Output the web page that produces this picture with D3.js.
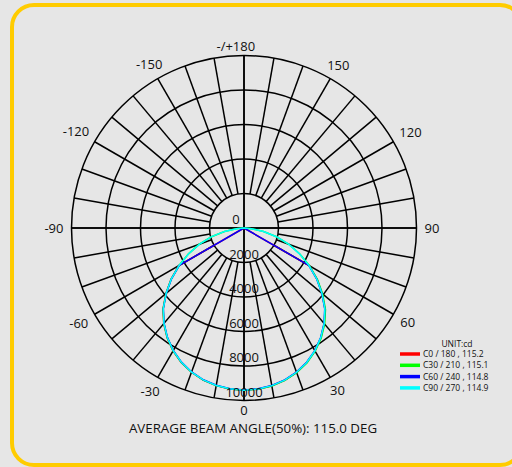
<!DOCTYPE html>
<html>
<head>
<meta charset="utf-8">
<script src="https://cdn.jsdelivr.net/npm/d3@7/dist/d3.min.js"></script>
<style>
html,body{margin:0;padding:0;background:#e6e6e6;}
svg{display:block;}
text{font-family:"Open Sans",sans-serif;fill:#111;}
</style>
</head>
<body>
<svg id="chart" width="512" height="467"></svg>
<script>
// ---- data ----
const gammaAngles = [-90,-85,-80,-75,-70,-65,-60,-55,-50,-45,-40,-35,-30,-25,-20,-15,-10,-5,0,5,10,15,20,25,30,35,40,45,50,55,60,65,70,75,80,85,90];
const seriesNames = ["C0 / 180 , 115.2","C30 / 210 , 115.1","C60 / 240 , 114.8","C90 / 270 , 114.9"];
const seriesColors = ["#ff0000","#00ff00","#0000ff","#00ffff"];
const c0Values  = [0,0,0,0,0,0,4360,5160,5910,6640,7240,7770,8230,8610,8900,9130,9280,9370,9410,9380,9290,9140,8910,8610,8230,7770,7240,6640,5910,5160,4360,0,0,0,0,0,0];
const c30Values = [0,450,1150,1950,2750,3550,4350,5150,5900,6630,7230,7760,8220,8600,8900,9130,9280,9370,9410,9380,9300,9150,8930,8630,8250,7800,7270,6680,5950,5200,4380,3570,2760,1950,1150,440,0];
const c60Values = [0,0,0,0,0,0,4330,5130,5880,6610,7210,7740,8200,8580,8880,9110,9260,9350,9390,9360,9270,9120,8890,8590,8210,7750,7220,6620,5890,5140,4340,0,0,0,0,0,0];
const c90Values = [0,440,1140,1940,2740,3540,4340,5140,5890,6620,7220,7750,8210,8590,8890,9120,9270,9360,9400,9370,9280,9130,8900,8600,8220,7760,7230,6630,5900,5150,4350,3550,2750,1950,1150,450,0];
const ringTicks = [2000,4000,6000,8000,10000];
const angleTicks = [0,30,60,90,120,150,180,-150,-120,-90,-60,-30];
const angleTickLabels = ["0","30","60","90","120","150","-/+180","-150","-120","-90","-60","-30"];
const unitLabel = "UNIT:cd";
const titleText = "AVERAGE BEAM ANGLE(50%): 115.0 DEG";

const seriesValues = [c0Values,c30Values,c60Values,c90Values];

// ---- layout ----
const W = 512, H = 467;
const cx = 244, cy = 228, R = 172.5;
const svg = d3.select("#chart");
svg.append("rect").attr("width",W).attr("height",H).attr("fill","#e6e6e6");
svg.append("rect").attr("x",12).attr("y",5).attr("width",510).attr("height",460)
  .attr("rx",22).attr("ry",22).attr("fill","none").attr("stroke","#ffcc00").attr("stroke-width",4);

const r = d3.scaleLinear().domain([0,10000]).range([0,R]);
const toRad = d => d*Math.PI/180;
// gamma 0 at bottom, positive to the right
const px = (g,v) => cx + r(v)*Math.sin(toRad(g));
const py = (g,v) => cy + r(v)*Math.cos(toRad(g));

const g = svg.append("g");
const gridStyle = sel => sel.attr("stroke","#000").attr("stroke-width",1.5).attr("fill","none");

// rings
g.selectAll("circle.ring").data(ringTicks).join("circle")
  .attr("cx",cx).attr("cy",cy).attr("r",d=>r(d)).call(gridStyle);

// radial lines every 10 degrees
const radials = d3.range(0,360,10);
const rMax = ringTicks[ringTicks.length-1], rMin = ringTicks[0];
g.selectAll("line.rad").data(radials).join("line")
  .attr("x1",d => d%90===0 ? px(d,rMax) : px(d,rMin))
  .attr("y1",d => d%90===0 ? py(d,rMax) : py(d,rMin))
  .attr("x2",d => d%90===0 ? px(d+180,rMax) : px(d,rMax))
  .attr("y2",d => d%90===0 ? py(d+180,rMax) : py(d,rMax))
  .call(gridStyle);

// curves
const line = d3.lineRadial()
  .angle(d => Math.PI - toRad(d[0]))
  .radius(d => r(d[1]))
  .curve(d3.curveLinear);
const cg = svg.append("g").attr("transform",`translate(${cx},${cy})`);
seriesValues.forEach((vals,i) => {
  cg.append("path")
    .attr("d", line(gammaAngles.map((a,j)=>[a,vals[j]])))
    .attr("fill","none").attr("stroke",seriesColors[i]).attr("stroke-width",1.5);
});

// ring labels
svg.selectAll("text.ringlab").data(ringTicks).join("text")
  .attr("x",cx).attr("y",d=>cy + r(d) - 4)
  .attr("text-anchor","middle").attr("font-size",13).text(d=>d);
svg.append("text").attr("x",cx-8).attr("y",cy-4).attr("text-anchor","middle").attr("font-size",13).text("0");

// angle labels
const fs = 13;
angleTicks.forEach((a,i) => {
  const t = svg.append("text").attr("font-size",fs).attr("text-anchor","middle")
    .attr("dominant-baseline","central").text(angleTickLabels[i]);
  const w = t.node().getComputedTextLength();
  const hgt = 10;
  const s = Math.abs(Math.sin(toRad(a))), c = Math.abs(Math.cos(toRad(a)));
  const gap = 4.5 + 3.5*s;
  if (a === 180) {
    const tmp = svg.append("text").attr("font-size",fs).text("180");
    const w180 = tmp.node().getComputedTextLength(); tmp.remove();
    const rr = R + gap + hgt/2;
    t.attr("text-anchor","end").attr("x", px(a, r.invert(rr)) + w180/2).attr("y", py(a, r.invert(rr)));
  } else {
    const rr = R + gap + s*w/2 + c*hgt/2;
    t.attr("x", px(a, r.invert(rr))).attr("y", py(a, r.invert(rr)));
  }
});

// legend
const lg = svg.append("g");
lg.append("text").attr("x",457).attr("y",347).attr("text-anchor","middle").attr("font-size",8.5).text(unitLabel);
seriesNames.forEach((n,i) => {
  const y = 354 + i*11.3;
  lg.append("line").attr("x1",400).attr("x2",420).attr("y1",y).attr("y2",y)
    .attr("stroke",seriesColors[i]).attr("stroke-width",3.5);
  lg.append("text").attr("x",423).attr("y",y+3).attr("font-size",8.5).text(n);
});

// title
svg.append("text").attr("x",253).attr("y",433).attr("text-anchor","middle").attr("font-size",13.3).text(titleText);
</script>
</body>
</html>
